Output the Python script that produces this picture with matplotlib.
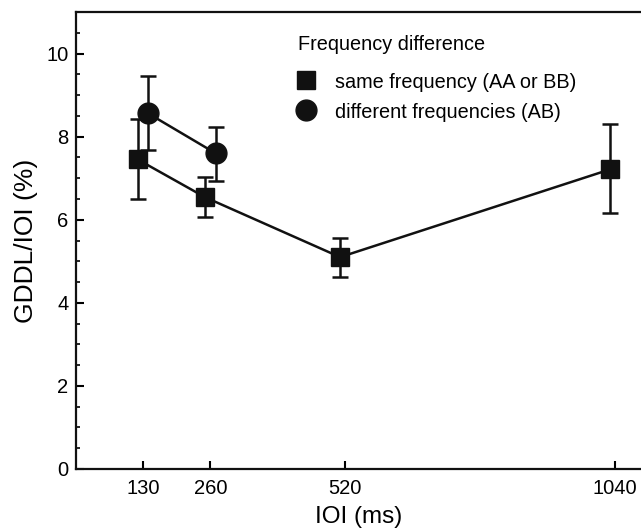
import numpy as np
import matplotlib.pyplot as plt
from matplotlib.lines import Line2D

plt.rcParams['font.family'] = ['Liberation Sans', 'DejaVu Sans']

# data
ioi = [130, 260, 520, 1040]
same_mean = [7.45, 6.54, 5.10, 7.21]
same_lo = [6.49, 6.06, 4.62, 6.17]
same_hi = [8.43, 7.03, 5.56, 8.30]

ioi_diff = [130, 260]
diff_mean = [8.56, 7.60]
diff_lo = [7.67, 6.94]
diff_hi = [9.46, 8.24]

col = '#111111'
W, H = 641, 532

fig = plt.figure(figsize=(6.41, 5.32), dpi=100)
ax = fig.add_axes([75.5 / W, 1 - 469 / H, 1 - 75.5 / W, (469 - 12) / H])

# small horizontal offsets so error bars dont overlap
xs = np.array(ioi) - 10
xd = np.array(ioi_diff) + 10

yerr_s = [np.array(same_mean) - np.array(same_lo), np.array(same_hi) - np.array(same_mean)]
yerr_d = [np.array(diff_mean) - np.array(diff_lo), np.array(diff_hi) - np.array(diff_mean)]

ax.errorbar(xs, same_mean, yerr=yerr_s, fmt='s-', color=col, ms=13,
            lw=1.8, elinewidth=1.8, capsize=6, capthick=1.8)
ax.errorbar(xd, diff_mean, yerr=yerr_d, fmt='o-', color=col, ms=15,
            lw=1.8, elinewidth=1.8, capsize=6, capthick=1.8)

ax.set_xlim(0, 1090)
ax.set_ylim(0, 11)
ax.set_xticks(ioi)
ax.set_yticks([0, 2, 4, 6, 8, 10])
ax.set_yticks(np.arange(0, 11.01, 0.5), minor=True)
ax.tick_params(axis='both', direction='in', labelsize=14.5, width=1.5, length=6)
ax.tick_params(axis='x', pad=7)
ax.tick_params(axis='y', pad=5)
ax.tick_params(axis='y', which='minor', direction='in', width=1.2, length=3)
ax.tick_params(axis='x', which='minor', bottom=False)

ax.spines['right'].set_visible(False)
for s in ['left', 'bottom', 'top']:
    ax.spines[s].set_linewidth(1.6)
    ax.spines[s].set_color(col)

ax.set_xlabel('IOI (ms)', fontsize=17.5, labelpad=6)
ax.set_ylabel('GDDL/IOI (%)', fontsize=19, labelpad=6)

# legend drawn by hand to match the layout
fig.text(298 / W, 1 - 43 / H, 'Frequency difference', fontsize=14.3,
         ha='left', va='center_baseline')
fig.add_artist(Line2D([306 / W], [1 - 80 / H], marker='s', ms=13, color=col,
                      ls='none', transform=fig.transFigure))
fig.add_artist(Line2D([305.5 / W], [1 - 110 / H], marker='o', ms=15, color=col,
                      ls='none', transform=fig.transFigure))
fig.text(335 / W, 1 - 80 / H, 'same frequency (AA or BB)', fontsize=14.3,
         ha='left', va='center_baseline')
fig.text(335 / W, 1 - 110 / H, 'different frequencies (AB)', fontsize=14.3,
         ha='left', va='center_baseline')

plt.savefig('out.png', dpi=100)
plt.close()
